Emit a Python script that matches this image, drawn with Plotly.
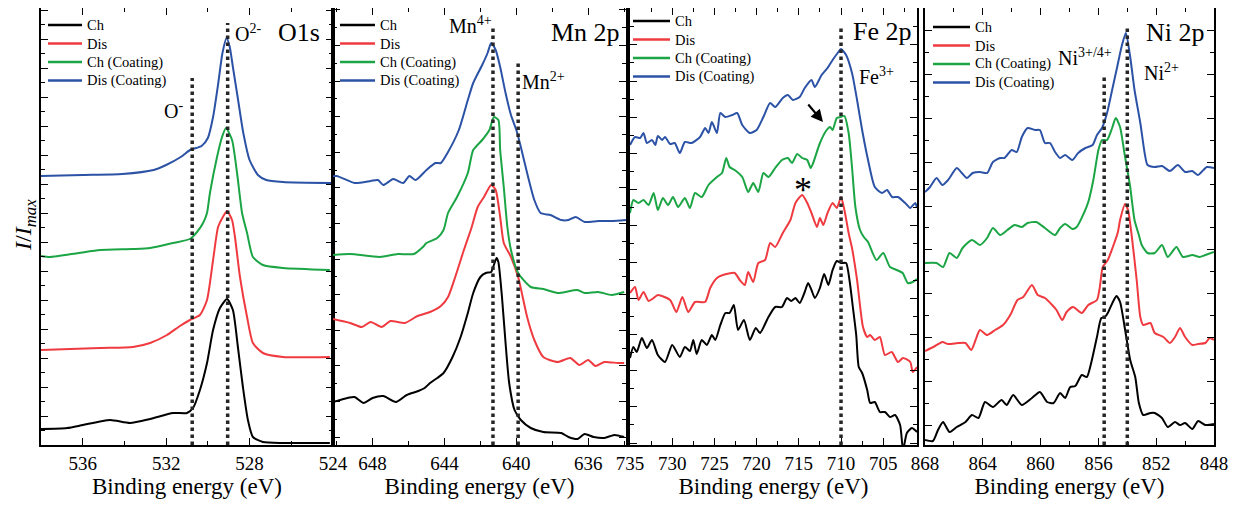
import plotly.graph_objects as go

REF_W, REF_H = 1238, 506          # size of the photographed window
PAGE_MARGIN = 8                   # default body margin of the html page
W, H = REF_W - PAGE_MARGIN, REF_H - PAGE_MARGIN
FONT = "Times New Roman, Liberation Serif, serif"

# ---------------- data (binding energy in eV, intensity in arbitrary offset units) ----------------
SERIES_NAMES = ["Ch", "Dis", "Ch (Coating)", "Dis (Coating)"]
SERIES_COLORS = ["#000000", "#ef3b40", "#1ba544", "#2c52a6"]

# O 1s
O1S_CH_E = [538, 536.75, 535.99, 534.69, 533.73, 532.77, 531.67, 531.0, 530.71, 530.38, 530.04, 529.75,
            529.42, 529.08, 528.8, 528.56, 528.32, 528.08, 527.84, 527.36, 526.4, 524.15]
O1S_CH_I = [16, 17, 20, 25, 22, 26, 32, 32, 37, 55, 82, 115, 137, 146, 135, 98, 58, 25, 8, 3, 2, 2]
O1S_DIS_E = [538, 535.17, 533.59, 532.77, 531.96, 531.34, 530.86, 530.38, 530.04, 529.75, 529.51, 529.28,
             529.08, 528.84, 528.7, 528.46, 528.12, 527.84, 527.36, 526.4, 524.15]
O1S_DIS_I = [95, 97, 98, 102, 110, 119, 125, 130, 145, 185, 218, 228, 234, 225, 208, 168, 128, 102, 92, 88, 88]
O1S_CHC_E = [538, 537.57, 536.2, 535.17, 533.6, 532.77, 531.67, 530.86, 530.52, 530.23, 530.04, 529.9,
             529.56, 529.32, 529.13, 528.84, 528.6, 528.36, 528.12, 527.84, 527.36, 526.4, 524.15]
O1S_CHC_I = [189, 188, 192, 195, 196, 197, 202, 206, 213, 222, 232, 252, 288, 308, 317, 305, 272, 232, 212,
             188, 180, 177, 175]
O1S_DISC_E = [538, 536, 534.1, 532.6, 532.0, 531.3, 530.85, 530.3, 530.0, 529.75, 529.5, 529.3, 529.1,
              528.95, 528.8, 528.55, 528.3, 528.0, 527.6, 527.2, 526.4, 524]
O1S_DISC_I = [269, 270, 271, 275, 280, 288, 295, 299, 307, 328, 362, 392, 407, 398, 378, 345, 312, 285, 270,
              265, 263, 262]

# Mn 2p
MN_CH_E = [650.2, 649.4, 649.0, 648.5, 648.0, 647.4, 646.7, 646.1, 645.45, 645.1, 644.8, 644.4, 644.05,
           643.55, 643.1, 642.7, 642.4, 642.0, 641.7, 641.4, 641.25, 641.1, 641.0, 640.8, 640.6, 640.4,
           640.1, 639.75, 639.2, 638.5, 637.5, 637.1, 636.6, 636.2, 635.7, 635.1, 634.55, 634.0]
MN_CH_I = [43, 47, 48, 42, 47, 49, 43, 50, 54, 57, 62, 67, 72, 88, 108, 132, 152, 168, 172, 173, 180, 187,
           183, 148, 102, 62, 35, 25, 17, 13, 12, 8, 6, 11, 8, 7, 10, 8]
MN_DIS_E = [650.2, 649.25, 648.6, 648.1, 647.5, 647.0, 646.2, 645.5, 644.8, 644.2, 643.8, 643.4, 642.9,
            642.5, 642.15, 641.8, 641.4, 641.15, 640.9, 640.7, 640.3, 639.9, 639.4, 639.0, 638.5, 637.7,
            637.0, 636.5, 636.0, 635.6, 635.1, 634.35, 634.0]
MN_DIS_I = [126, 122, 118, 123, 118, 124, 122, 129, 133, 139, 148, 168, 196, 217, 238, 248, 260, 255, 228,
            202, 188, 168, 128, 105, 88, 83, 87, 80, 85, 79, 83, 82, 82]
MN_CHC_E = [650.2, 649.25, 647.6, 646.6, 645.7, 645.2, 645.0, 644.4, 644.05, 643.8, 643.3, 642.7, 642.4,
            641.9, 641.5, 641.25, 641.0, 640.9, 640.7, 640.5, 640.3, 639.9, 639.2, 638.5, 637.7, 636.6,
            636.2, 635.45, 634.7, 634.0]
MN_CHC_I = [190, 191, 188, 191, 191, 198, 202, 207, 215, 232, 248, 272, 295, 305, 315, 328, 325, 295, 258,
            218, 195, 172, 158, 156, 152, 155, 152, 153, 150, 153]
MN_DISC_E = [650.4, 650.0, 649.0, 648.1, 647.7, 647.4, 646.85, 646.3, 645.95, 645.6, 645.0, 644.5, 644.2,
             643.8, 643.2, 642.7, 642.4, 641.9, 641.6, 641.4, 641.15, 640.9, 640.6, 640.3, 640.0, 639.75,
             639.4, 639.0, 638.65, 638.1, 637.5, 637.1, 636.7, 636.2, 635.45, 634.7, 633.9]
MN_DISC_I = [268, 269, 262, 264, 265, 260, 266, 262, 269, 265, 275, 282, 282, 293, 315, 345, 362, 380, 392,
             402, 395, 378, 352, 330, 315, 298, 272, 245, 232, 230, 225, 225, 228, 223, 224, 224, 225]

# Fe 2p
FE_CH_E = [735, 734.6, 734.2, 733.6, 733.0, 732.4, 731.7, 730.85, 730.0, 729.1, 728.5, 727.9, 727.5, 727.1,
           726.5, 725.9, 725.3, 724.9, 724.3, 723.7, 723.2, 722.7, 722.2, 721.5, 720.8, 720.1, 719.6, 718.6,
           717.8, 717.0, 716.4, 715.9, 715.4, 714.9, 714.3, 713.9, 713.5, 713.1, 712.5, 712.0, 711.5, 711.0,
           710.5, 710.0, 709.4, 709.0, 708.6, 708.2, 707.9, 707.5, 706.9, 706.55, 706.0, 705.4, 704.8, 704.2,
           703.6, 703.0, 702.65, 702.2, 701.6, 701.0]
FE_CH_I = [87, 98, 93, 107, 97, 105, 90, 83, 100, 88, 98, 94, 105, 91, 105, 100, 110, 105, 120, 132, 132, 140,
           115, 125, 105, 117, 112, 128, 138, 138, 147, 144, 147, 142, 153, 162, 155, 147, 157, 171, 160, 175,
           184, 182, 182, 165, 138, 110, 78, 72, 55, 42, 43, 33, 33, 28, 30, 20, -5, 12, 17, 13]
FE_DIS_E = [735, 734.4, 734.0, 733.4, 732.8, 732.2, 731.7, 730.25, 729.5, 728.8, 728.1, 727.3, 726.1, 725.5,
            724.7, 724.0, 722.6, 722.0, 721.4, 721.0, 720.4, 719.8, 719.0, 718.4, 717.8, 716.9, 716.0, 715.4,
            714.6, 714.0, 713.5, 712.85, 712.5, 712.1, 711.6, 711.0, 710.5, 710.0, 709.6, 709.1, 708.7, 708.1,
            707.4, 706.9, 706.55, 706.0, 705.4, 704.8, 704.0, 703.25, 702.65, 701.8, 701.5, 701.0]
FE_DIS_I = [152, 158, 145, 153, 144, 147, 150, 145, 133, 148, 133, 143, 143, 157, 167, 170, 172, 165, 160, 173,
            163, 182, 185, 202, 198, 212, 225, 242, 250, 242, 232, 218, 227, 220, 232, 242, 237, 248, 235, 212,
            197, 165, 118, 108, 110, 105, 108, 90, 93, 83, 87, 83, 73, 78]
FE_CHC_E = [735, 734.6, 734.0, 733.4, 732.8, 732.2, 731.7, 731.1, 730.5, 729.9, 729.3, 728.5, 727.9, 727.3,
            726.5, 725.7, 724.7, 724.1, 723.6, 723.2, 722.6, 721.7, 721.0, 720.4, 719.8, 719.2, 718.6, 717.8,
            717.0, 716.3, 715.8, 715.2, 714.6, 714.0, 713.6, 713.3, 712.5, 711.7, 711.3, 711.0, 710.5, 710.1,
            709.6, 709.1, 708.7, 708.3, 707.75, 707.3, 706.8, 705.8, 705.0, 704.2, 703.4, 702.7, 702.1, 701.5,
            701.0]
FE_CHC_I = [232, 245, 242, 245, 240, 252, 235, 247, 240, 248, 238, 247, 237, 252, 248, 260, 268, 272, 287, 278,
            275, 268, 253, 262, 253, 272, 268, 277, 285, 287, 282, 291, 287, 285, 277, 282, 302, 315, 318, 315,
            327, 328, 329, 312, 278, 238, 215, 208, 203, 185, 192, 178, 175, 172, 162, 163, 166]
FE_DISC_E = [735, 734.4, 733.8, 733.4, 733.0, 732.4, 732.0, 731.7, 731.2, 730.85, 730.25, 729.7, 729.1, 728.5,
             727.7, 726.7, 726.1, 725.7, 725.3, 724.7, 724.3, 723.7, 722.9, 722.3, 721.7, 720.8, 720.0, 719.2,
             718.4, 717.8, 716.9, 716.3, 715.7, 714.9, 714.3, 713.5, 713.1, 712.3, 711.6, 711.0, 710.4, 710.0,
             709.4, 708.7, 708.1, 707.5, 706.8, 706.0, 705.15, 704.55, 703.95, 703.25, 702.4, 701.8, 701.2,
             701.0]
FE_DISC_I = [300, 308, 307, 312, 302, 305, 300, 309, 305, 308, 301, 302, 292, 303, 302, 308, 317, 312, 323, 312,
             332, 328, 330, 332, 320, 312, 315, 328, 342, 338, 347, 350, 345, 348, 357, 365, 358, 370, 377, 385,
             392, 396, 390, 372, 345, 315, 285, 258, 252, 255, 248, 248, 242, 237, 242, 237]

# Ni 2p
NI_CH_E = [868, 867.45, 867.1, 866.75, 866.3, 865.8, 865.2, 864.75, 864.3, 863.85, 863.3, 862.7, 862.35,
           861.9, 861.3, 860.6, 860.05, 859.55, 859.1, 858.65, 858.3, 857.95, 857.6, 857.15, 856.8, 856.5,
           856.1, 855.8, 855.55, 855.35, 855.0, 854.75, 854.5, 854.15, 853.8, 853.45, 853.2, 852.9, 852.4,
           852.1, 851.6, 851.2, 850.7, 850.35, 850.0, 849.5, 849.1, 848.6, 848.0]
NI_CH_I = [5, 4, 15, 23, 13, 18, 23, 30, 27, 43, 38, 45, 40, 50, 40, 47, 53, 43, 42, 52, 47, 58, 59, 70, 68,
           82, 108, 127, 128, 132, 143, 149, 143, 115, 85, 68, 42, 30, 32, 32, 27, 18, 23, 20, 22, 16, 24, 20, 21]
NI_DIS_E = [868, 867.3, 866.8, 866.4, 865.7, 865.2, 864.8, 864.5, 864.2, 863.7, 863.15, 862.6, 862.1, 861.6,
            861.2, 860.6, 860.2, 859.7, 859.2, 858.9, 858.5, 858.2, 857.75, 857.15, 856.7, 856.1, 855.9, 855.7,
            855.35, 855.0, 854.65, 854.5, 854.15, 853.95, 853.7, 853.35, 853.1, 852.9, 852.4, 852.1, 851.5,
            851.05, 850.7, 850.35, 850.0, 849.5, 849.1, 848.6, 848.3, 848.0]
NI_DIS_I = [94, 99, 103, 101, 102, 102, 95, 105, 115, 110, 115, 120, 130, 145, 148, 160, 150, 147, 140, 135,
            125, 133, 138, 132, 140, 145, 158, 178, 185, 198, 213, 225, 241, 235, 210, 165, 128, 120, 122, 112,
            108, 102, 108, 117, 108, 100, 101, 102, 107, 105]
NI_CHC_E = [868, 867.2, 866.75, 866.3, 865.8, 865.4, 864.75, 864.2, 863.7, 863.3, 862.8, 862.3, 861.8, 861.3,
            860.9, 860.3, 859.7, 859.0, 858.65, 858.3, 857.8, 857.5, 857.0, 856.7, 856.35, 856.0, 855.75, 855.4,
            855.05, 854.8, 854.5, 854.2, 853.8, 853.5, 853.2, 853.0, 852.6, 852.1, 851.6, 851.2, 850.6, 850.15,
            849.5, 849.0, 848.6, 848.0]
NI_CHC_I = [182, 182, 178, 192, 187, 197, 205, 200, 207, 217, 210, 215, 220, 218, 222, 223, 217, 210, 217, 221,
            216, 218, 232, 243, 265, 295, 305, 305, 317, 327, 318, 292, 258, 225, 210, 200, 192, 192, 200, 188,
            198, 188, 190, 188, 190, 193]
NI_DISC_E = [868, 867.65, 867.2, 866.8, 866.4, 865.8, 865.45, 865.1, 864.7, 864.2, 863.7, 863.3, 862.8, 862.5,
             862.0, 861.65, 861.3, 860.9, 860.4, 860.05, 859.7, 859.35, 859.0, 858.65, 858.3, 857.8, 857.4,
             856.9, 856.4, 856.1, 855.75, 855.4, 855.05, 854.7, 854.4, 854.1, 853.8, 853.5, 853.1, 852.8, 852.6,
             852.1, 851.6, 851.05, 850.5, 850.0, 849.5, 849.1, 848.5, 848.0]
NI_DISC_I = [253, 258, 267, 260, 265, 277, 272, 267, 272, 273, 272, 283, 287, 287, 295, 293, 308, 317, 315, 315,
             302, 302, 293, 287, 290, 285, 292, 297, 300, 310, 317, 332, 355, 378, 398, 412, 388, 355, 322, 292,
             280, 278, 279, 274, 280, 273, 274, 270, 278, 277]

# panel titles, axis ranges and tick labels
PANEL_TITLES = ["O1s", "Mn 2p", "Fe 2p", "Ni 2p"]
X_RANGES = [[538, 524], [650.2, 633.9], [735, 701], [868, 848]]
X_TICKS = [[536, 532, 528, 524], [648, 644, 640, 636], [735, 730, 725, 720, 715, 710, 705],
           [868, 864, 860, 856, 852, 848]]
X_MINOR = [[538, 534, 530, 526], [650, 646, 642, 638, 634], [732.5, 727.5, 722.5, 717.5, 712.5, 707.5, 702.5],
           [866, 862, 858, 854, 850]]

# reference lines: (panel, energy, top intensity)
REF_LINES = [(0, 530.75, 367), (0, 529.05, 422), (1, 641.3, 417), (1, 639.9, 383),
             (2, 710.0, 420), (3, 855.6, 368), (3, 854.0, 417)]

CURVES = [
    [(O1S_CH_E, O1S_CH_I), (O1S_DIS_E, O1S_DIS_I), (O1S_CHC_E, O1S_CHC_I), (O1S_DISC_E, O1S_DISC_I)],
    [(MN_CH_E, MN_CH_I), (MN_DIS_E, MN_DIS_I), (MN_CHC_E, MN_CHC_I), (MN_DISC_E, MN_DISC_I)],
    [(FE_CH_E, FE_CH_I), (FE_DIS_E, FE_DIS_I), (FE_CHC_E, FE_CHC_I), (FE_DISC_E, FE_DISC_I)],
    [(NI_CH_E, NI_CH_I), (NI_DIS_E, NI_DIS_I), (NI_CHC_E, NI_CHC_I), (NI_DISC_E, NI_DISC_I)],
]

# ---------------- layout geometry (window pixels) ----------------
PLOT_TOP, PLOT_BOTTOM = 8, 445
PANEL_X = [(41, 333), (333, 626), (630, 917), (925, 1214)]
Y_TICK0 = [0, 8, 2, 20]
Y_STEP = [14.5, 17.8, 18.1, 21.9]
# per-panel legend: (line start x, line end x, first row y)
LEGEND_GEOM = [(48, 82, 25), (340, 375, 25), (633, 670, 21), (933, 970, 27)]
LEGEND_ROW = 18.5


def px(x):
    return (x - PAGE_MARGIN) / W


def py(y):
    return 1 - (y - PAGE_MARGIN) / H


fig = go.Figure()
ydom = [py(PLOT_BOTTOM), min(1.0, py(PLOT_TOP))]
annotations = []
shapes = []

for p in range(4):
    sfx = "" if p == 0 else str(p + 1)
    for s, (e, inten) in enumerate(CURVES[p]):
        fig.add_trace(go.Scatter(
            x=e, y=inten, mode="lines", name=SERIES_NAMES[s],
            line=dict(color=SERIES_COLORS[s], width=2, shape="spline", smoothing=0.6),
            xaxis="x" + sfx, yaxis="y" + sfx, showlegend=False,
        ))
    axis_common = dict(showline=True, linecolor="black", linewidth=1.5, mirror="allticks",
                       ticks="inside", tickcolor="black", tickwidth=1.3, showgrid=False, zeroline=False)
    fig.layout["xaxis" + sfx] = dict(
        domain=[px(PANEL_X[p][0]), px(PANEL_X[p][1])], range=X_RANGES[p], anchor="y" + sfx,
        tickmode="array", tickvals=X_TICKS[p], ticklen=7,
        tickfont=dict(family=FONT, size=19, color="black"),
        minor=dict(tickmode="array", tickvals=X_MINOR[p], ticklen=4, ticks="inside",
                   tickcolor="black", tickwidth=1.3),
        title=dict(text="Binding energy (eV)", font=dict(family=FONT, size=23, color="black"), standoff=5),
        **axis_common)
    fig.layout["yaxis" + sfx] = dict(
        domain=ydom, range=[0, PLOT_BOTTOM - PLOT_TOP], anchor="x" + sfx,
        tickmode="linear", tick0=Y_TICK0[p], dtick=2 * Y_STEP[p], ticklen=7, showticklabels=False,
        minor=dict(tick0=Y_TICK0[p], dtick=Y_STEP[p], ticklen=4, ticks="inside",
                   tickcolor="black", tickwidth=1.3),
        **axis_common)
    # in-panel legend
    x0, x1, y0 = LEGEND_GEOM[p]
    for s in range(4):
        yy = y0 + s * LEGEND_ROW
        shapes.append(dict(type="line", xref="paper", yref="paper", x0=px(x0), x1=px(x1),
                           y0=py(yy), y1=py(yy), line=dict(color=SERIES_COLORS[s], width=2.5)))
        annotations.append(dict(text=SERIES_NAMES[s], x=px(x1 + 3), y=py(yy), xanchor="left",
                                font=dict(size=14.5)))

# dotted reference lines
for (p, e, top) in REF_LINES:
    sfx = "" if p == 0 else str(p + 1)
    shapes.append(dict(type="line", xref="x" + sfx, yref="y" + sfx, x0=e, x1=e, y0=0, y1=top,
                       line=dict(color="#262626", width=3.5, dash="dot")))

# panel titles
for (t, x, y) in zip(PANEL_TITLES, [299, 585, 882, 1175], [33, 32, 31, 33]):
    annotations.append(dict(text=t, x=px(x), y=py(y), font=dict(size=26)))
# ion labels
for (t, x, y) in [("O<sup>2-</sup>", 248, 33), ("O<sup>-</sup>", 173, 110), ("Mn<sup>4+</sup>", 470, 25),
                  ("Mn<sup>2+</sup>", 543, 81), ("Fe<sup>3+</sup>", 876, 76),
                  ("Ni<sup>3+/4+</sup>", 1085, 57), ("Ni<sup>2+</sup>", 1161, 72)]:
    annotations.append(dict(text=t, x=px(x), y=py(y), font=dict(size=20)))
annotations.append(dict(text="*", x=px(803), y=py(190), font=dict(size=36)))
annotations.append(dict(text="<i>I</i>/<i>I</i><sub><i>max</i></sub>", x=px(25), y=py(225),
                        textangle=-90, font=dict(size=24)))
for a in annotations:
    a.setdefault("xanchor", "center")
    a.update(xref="paper", yref="paper", showarrow=False, yanchor="middle")
    a["font"].update(family=FONT, color="black")
# arrow
annotations.append(dict(xref="paper", yref="paper", x=px(823), y=py(122), ax=-16, ay=-19, text="",
                        showarrow=True, arrowhead=2, arrowsize=1.1, arrowwidth=2.2, arrowcolor="black"))

fig.update_layout(annotations=annotations, shapes=shapes)
fig.update_layout(width=W, height=H, margin=dict(l=0, r=0, t=0, b=0, autoexpand=False),
                  plot_bgcolor="white", paper_bgcolor="white", showlegend=False,
                  font=dict(family=FONT, color="black"))

fig.write_html("out.html")
